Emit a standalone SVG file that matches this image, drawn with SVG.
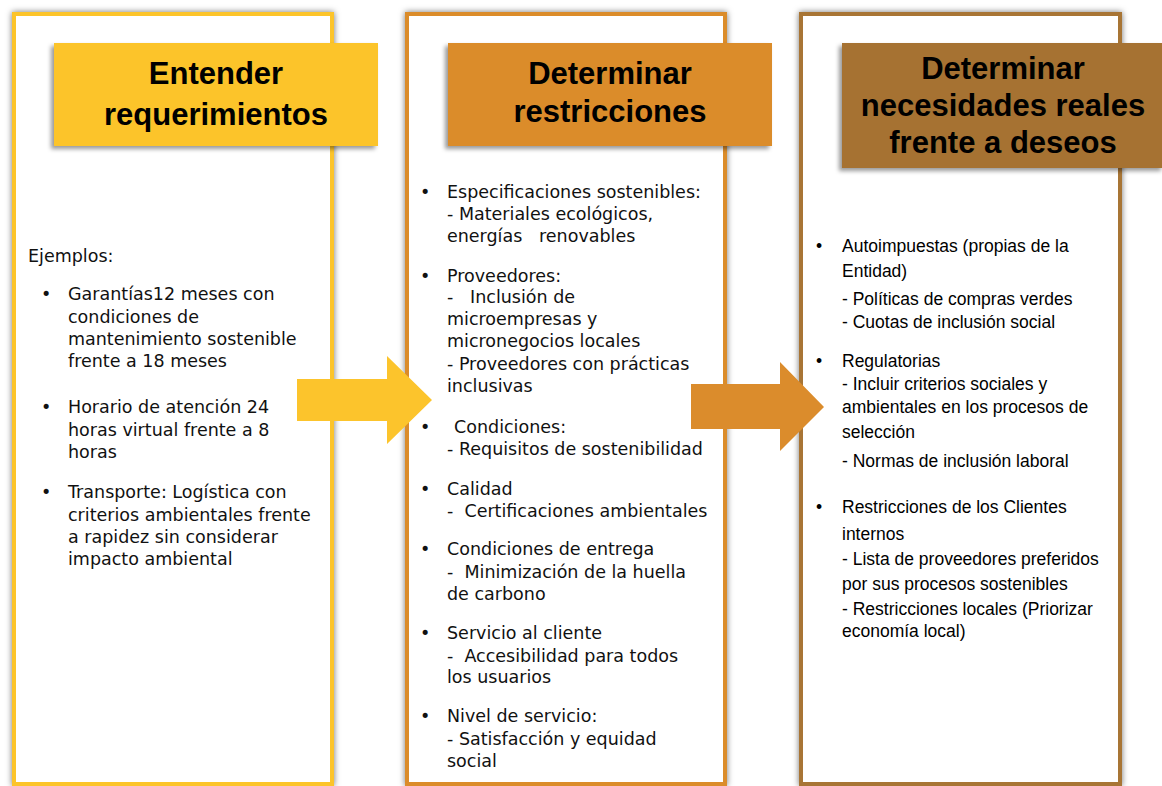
<svg xmlns="http://www.w3.org/2000/svg" width="1162" height="786" viewBox="0 0 1162 786">
  <defs>
    <filter id="colShadow" x="-10%" y="-10%" width="120%" height="120%">
      <feDropShadow dx="0" dy="0" stdDeviation="3" flood-color="#000" flood-opacity="0.55"/>
    </filter>
    <filter id="hdrShadow" x="-10%" y="-10%" width="120%" height="130%">
      <feDropShadow dx="-3" dy="3" stdDeviation="2" flood-color="#000" flood-opacity="0.4"/>
    </filter>
  </defs>
  <style>
    .col { fill: #ffffff; stroke-width: 4; }
    .hdr { font-family: "Liberation Sans", Arial, sans-serif; font-weight: bold; font-size: 31px; fill: #000; text-anchor: middle; }
    .t { font-family: "DejaVu Sans", Verdana, sans-serif; font-size: 17.5px; fill: #111; }
    .a { font-family: "Liberation Sans", Arial, sans-serif; font-size: 17.5px; fill: #000; }
  </style>
  <rect width="1162" height="786" fill="#ffffff"/>

  <g id="col1">
    <rect class="col" x="14" y="14" width="318" height="770" stroke="#FCC42C" filter="url(#colShadow)"/>
    <rect x="54" y="43" width="324" height="103" fill="#FCC42C" filter="url(#hdrShadow)"/>
    <text class="hdr" x="216" y="84">Entender</text>
    <text class="hdr" x="216" y="125">requerimientos</text>
    <text class="t" x="28" y="262">Ejemplos:</text>
    <text class="t" x="41" y="300">•</text>
    <text class="t" x="68" y="300">Garantías12 meses con</text>
    <text class="t" x="68" y="323">condiciones de</text>
    <text class="t" x="68" y="345">mantenimiento sostenible</text>
    <text class="t" x="68" y="367">frente a 18 meses</text>
    <text class="t" x="41" y="413">•</text>
    <text class="t" x="68" y="413">Horario de atención 24</text>
    <text class="t" x="68" y="436">horas virtual frente a 8</text>
    <text class="t" x="68" y="458">horas</text>
    <text class="t" x="41" y="498">•</text>
    <text class="t" x="68" y="498">Transporte: Logística con</text>
    <text class="t" x="68" y="521">criterios ambientales frente</text>
    <text class="t" x="68" y="543">a rapidez sin considerar</text>
    <text class="t" x="68" y="565">impacto ambiental</text>
  </g>

  <g id="col2">
    <rect class="col" x="407" y="14" width="318" height="770" stroke="#DB8C2C" filter="url(#colShadow)"/>
    <rect x="448" y="43" width="324" height="103" fill="#DB8C2C" filter="url(#hdrShadow)"/>
    <text class="hdr" x="610" y="84">Determinar</text>
    <text class="hdr" x="610" y="122">restricciones</text>
    <text class="t" x="420" y="198">•</text>
    <text class="t" x="447" y="198">Especificaciones sostenibles:</text>
    <text class="t" x="447" y="220">- Materiales ecológicos,</text>
    <text class="t" x="447" y="242" xml:space="preserve">energías   renovables</text>
    <text class="t" x="420" y="282">•</text>
    <text class="t" x="447" y="282">Proveedores:</text>
    <text class="t" x="447" y="303" xml:space="preserve">-   Inclusión de</text>
    <text class="t" x="447" y="325">microempresas y</text>
    <text class="t" x="447" y="347">micronegocios locales</text>
    <text class="t" x="447" y="370">- Proveedores con prácticas</text>
    <text class="t" x="447" y="392">inclusivas</text>
    <text class="t" x="420" y="433">•</text>
    <text class="t" x="454" y="433">Condiciones:</text>
    <text class="t" x="447" y="455">- Requisitos de sostenibilidad</text>
    <text class="t" x="420" y="495">•</text>
    <text class="t" x="447" y="495">Calidad</text>
    <text class="t" x="447" y="517" xml:space="preserve">-  Certificaciones ambientales</text>
    <text class="t" x="420" y="555">•</text>
    <text class="t" x="447" y="555">Condiciones de entrega</text>
    <text class="t" x="447" y="578" xml:space="preserve">-  Minimización de la huella</text>
    <text class="t" x="447" y="600">de carbono</text>
    <text class="t" x="420" y="639">•</text>
    <text class="t" x="447" y="639">Servicio al cliente</text>
    <text class="t" x="447" y="662" xml:space="preserve">-  Accesibilidad para todos</text>
    <text class="t" x="447" y="683">los usuarios</text>
    <text class="t" x="420" y="722">•</text>
    <text class="t" x="447" y="722">Nivel de servicio:</text>
    <text class="t" x="447" y="745">- Satisfacción y equidad</text>
    <text class="t" x="447" y="767">social</text>
  </g>

  <g id="col3">
    <rect class="col" x="801" y="14" width="319" height="770" stroke="#A87434" filter="url(#colShadow)"/>
    <rect x="842" y="43" width="322" height="125" fill="#A67232" filter="url(#hdrShadow)"/>
    <text class="hdr" x="1003" y="79">Determinar</text>
    <text class="hdr" x="1003" y="116">necesidades reales</text>
    <text class="hdr" x="1003" y="153">frente a deseos</text>
    <text class="a" x="816" y="252">•</text>
    <text class="a" x="842" y="252">Autoimpuestas (propias de la</text>
    <text class="a" x="842" y="277">Entidad)</text>
    <text class="a" x="842" y="305">- Políticas de compras verdes</text>
    <text class="a" x="842" y="328">- Cuotas de inclusión social</text>
    <text class="a" x="816" y="367">•</text>
    <text class="a" x="842" y="367">Regulatorias</text>
    <text class="a" x="842" y="390">- Incluir criterios sociales y</text>
    <text class="a" x="842" y="413">ambientales en los procesos de</text>
    <text class="a" x="842" y="438">selección</text>
    <text class="a" x="842" y="467">- Normas de inclusión laboral</text>
    <text class="a" x="816" y="513">•</text>
    <text class="a" x="842" y="513">Restricciones de los Clientes</text>
    <text class="a" x="842" y="540">internos</text>
    <text class="a" x="842" y="565">- Lista de proveedores preferidos</text>
    <text class="a" x="842" y="590">por sus procesos sostenibles</text>
    <text class="a" x="842" y="615">- Restricciones locales (Priorizar</text>
    <text class="a" x="842" y="637">economía local)</text>
  </g>

  <g id="connectors">
    <polygon points="297,379 387,379 387,356 432,400 387,444 387,421 297,421" fill="#FCC42C"/>
    <polygon points="691,384 780,384 780,362 824,407 780,451 780,429 691,429" fill="#DB8C2C"/>
  </g>
</svg>
